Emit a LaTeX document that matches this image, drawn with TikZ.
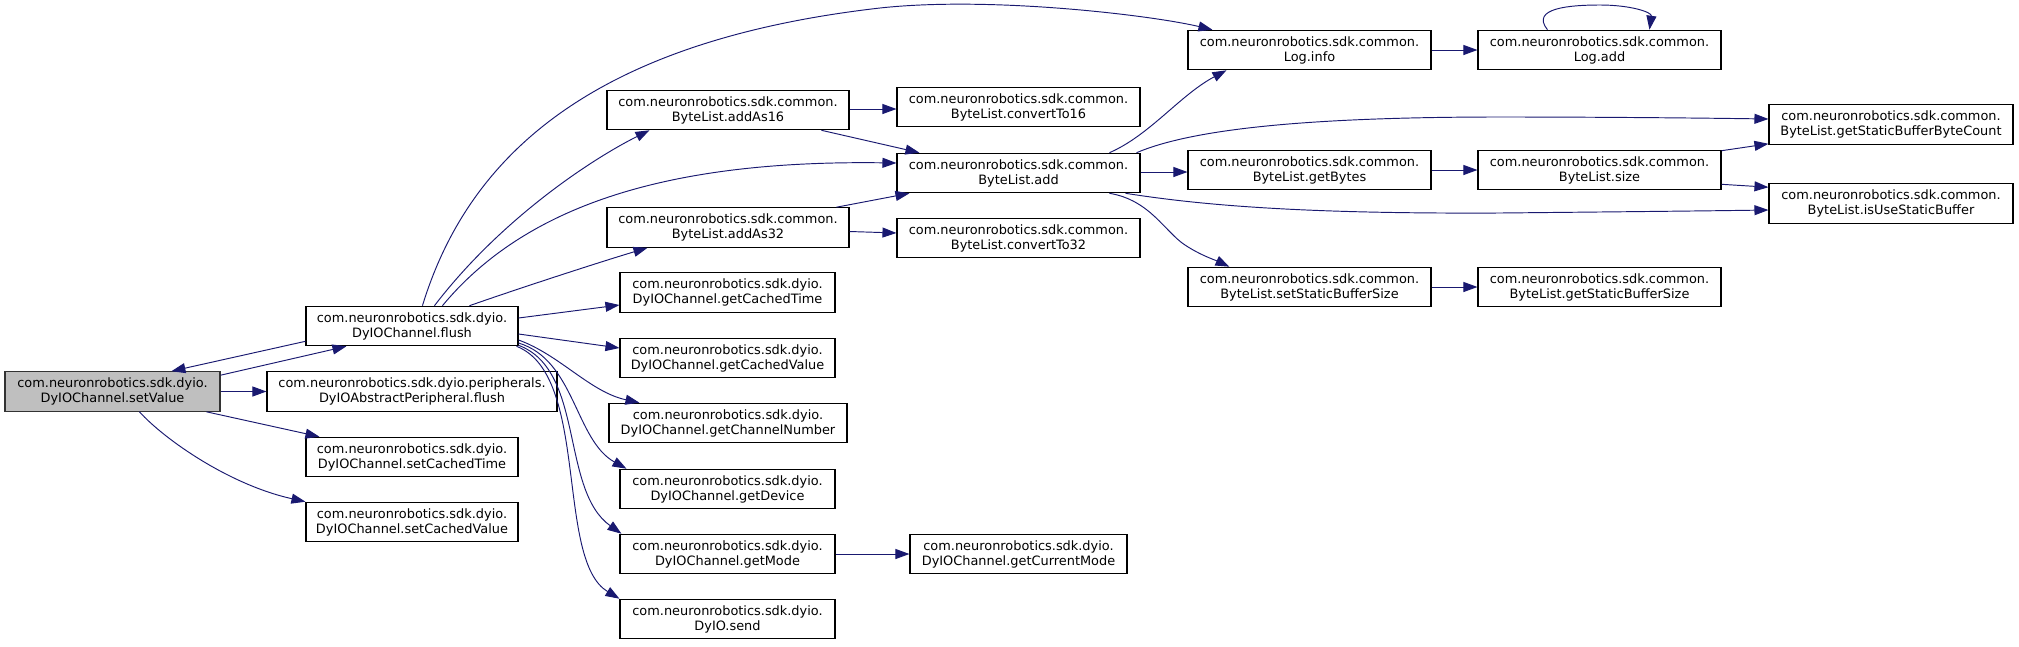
\documentclass[tikz,border=0pt]{standalone}
\usepackage{fontspec}
\setmainfont{DejaVu Sans}
\usetikzlibrary{arrows.meta,calc}
\definecolor{edgeblue}{HTML}{191970}
\definecolor{rootgray}{HTML}{BFBFBF}
\tikzset{
  fn/.style={draw=black, line width=1.1pt, fill=white, rectangle, inner sep=0pt,
    minimum height=39.5pt, align=center, font=\fontsize{12.9pt}{15pt}\selectfont},
  rootfn/.style={fn, fill=rootgray, draw=black!80},
  call/.style={draw=edgeblue, line width=0.95pt, -{Triangle[length=14pt,width=10pt]}}
}
\begin{document}
\begin{tikzpicture}[x=1pt,y=-1pt]
\useasboundingbox (0,0) rectangle (2019,646);
% column 0
\node[rootfn, minimum width=215pt] (setValue) at (112.5,391.5) {com.neuronrobotics.sdk.dyio.\\DyIOChannel.setValue};
% column 1
\node[fn, minimum width=212pt] (flush) at (412,326) {com.neuronrobotics.sdk.dyio.\\DyIOChannel.flush};
\node[fn, minimum width=290pt] (periph) at (412,391.5) {com.neuronrobotics.sdk.dyio.peripherals.\\DyIOAbstractPeripheral.flush};
\node[fn, minimum width=212pt] (setCT) at (412,457) {com.neuronrobotics.sdk.dyio.\\DyIOChannel.setCachedTime};
\node[fn, minimum width=212pt] (setCV) at (412,522) {com.neuronrobotics.sdk.dyio.\\DyIOChannel.setCachedValue};
% column 2
\node[fn, minimum width=242pt] (addAs16) at (728,110) {com.neuronrobotics.sdk.common.\\ByteList.addAs16};
\node[fn, minimum width=242pt] (addAs32) at (728,227.5) {com.neuronrobotics.sdk.common.\\ByteList.addAs32};
\node[fn, minimum width=215pt] (getCT) at (727.5,292.5) {com.neuronrobotics.sdk.dyio.\\DyIOChannel.getCachedTime};
\node[fn, minimum width=215pt] (getCV) at (727.5,358) {com.neuronrobotics.sdk.dyio.\\DyIOChannel.getCachedValue};
\node[fn, minimum width=238pt] (getCN) at (728,423) {com.neuronrobotics.sdk.dyio.\\DyIOChannel.getChannelNumber};
\node[fn, minimum width=215pt] (getDev) at (727.5,489) {com.neuronrobotics.sdk.dyio.\\DyIOChannel.getDevice};
\node[fn, minimum width=215pt] (getMode) at (727.5,554) {com.neuronrobotics.sdk.dyio.\\DyIOChannel.getMode};
\node[fn, minimum width=215pt] (send) at (727.5,619) {com.neuronrobotics.sdk.dyio.\\DyIO.send};
% column 3
\node[fn, minimum width=243pt] (conv16) at (1018.5,107) {com.neuronrobotics.sdk.common.\\ByteList.convertTo16};
\node[fn, minimum width=243pt] (badd) at (1018.5,173) {com.neuronrobotics.sdk.common.\\ByteList.add};
\node[fn, minimum width=243pt] (conv32) at (1018.5,238) {com.neuronrobotics.sdk.common.\\ByteList.convertTo32};
\node[fn, minimum width=217pt] (getCM) at (1018.5,554) {com.neuronrobotics.sdk.dyio.\\DyIOChannel.getCurrentMode};
% column 4
\node[fn, minimum width=243pt] (loginfo) at (1309.5,50) {com.neuronrobotics.sdk.common.\\Log.info};
\node[fn, minimum width=243pt] (getBytes) at (1309.5,170) {com.neuronrobotics.sdk.common.\\ByteList.getBytes};
\node[fn, minimum width=243pt] (setSBS) at (1309.5,287) {com.neuronrobotics.sdk.common.\\ByteList.setStaticBufferSize};
% column 5
\node[fn, minimum width=243pt] (logadd) at (1599.5,50) {com.neuronrobotics.sdk.common.\\Log.add};
\node[fn, minimum width=243pt] (size) at (1599.5,170) {com.neuronrobotics.sdk.common.\\ByteList.size};
\node[fn, minimum width=243pt] (getSBS) at (1599.5,287) {com.neuronrobotics.sdk.common.\\ByteList.getStaticBufferSize};
% column 6
\node[fn, minimum width=244pt] (gSBBC) at (1891,124.5) {com.neuronrobotics.sdk.common.\\ByteList.getStaticBufferByteCount};
\node[fn, minimum width=244pt] (isUse) at (1891,203.5) {com.neuronrobotics.sdk.common.\\ByteList.isUseStaticBuffer};

% edges from setValue
\draw[call] ($(setValue.north east)+(0,4)$) -- ($(flush.south west)+(41,0)$);
\draw[call] ($(flush.south west)+(0,-5)$) -- ($(setValue.north west)+(167,0)$);
\draw[call] (setValue.east) -- (periph.west);
\draw[call] ($(setValue.south west)+(202,0)$) -- ($(setCT.north west)+(14,0)$);
\draw[call] ($(setValue.south west)+(135,0)$) .. controls (165,440) and (230,485) .. ($(setCV.north west)+(0,0)$);
% edges from flush
\draw[call] ($(flush.north west)+(117,0)$) .. controls (470,150) and (600,40) .. (880,8)
  .. controls (990,-4) and (1150,15) .. ($(loginfo.north west)+(25,0)$);
\draw[call] ($(flush.north west)+(129,0)$) .. controls (500,220) and (590,160) .. ($(addAs16.south west)+(43,0)$);
\draw[call] ($(flush.north west)+(137,0)$) .. controls (530,200) and (680,160) .. ($(badd.west)+(0,-10)$);
\draw[call] ($(flush.north west)+(164,0)$) .. controls (520,288) and (600,262) .. ($(addAs32.south west)+(41,0)$);
\draw[call] ($(flush.east)+(0,-8)$) -- ($(getCT.west)+(0,12.5)$);
\draw[call] ($(flush.east)+(0,8)$) -- ($(getCV.west)+(0,-10)$);
\draw[call] ($(flush.east)+(0,14)$) .. controls (560,355) and (590,392) .. ($(getCN.north west)+(31,0)$);
\draw[call] ($(flush.east)+(0,17)$) .. controls (575,360) and (575,440) .. ($(getDev.north west)+(7,0)$);
\draw[call] ($(flush.south east)+(0,-1)$) .. controls (585,370) and (560,490) .. ($(getMode.north west)+(2,0)$);
\draw[call] ($(flush.south east)+(-2,0)$) .. controls (590,375) and (555,560) .. (send.north west);
% column 2 -> 3
\draw[call] ($(addAs16.east)+(0,-1)$) -- ($(conv16.west)+(0,2)$);
\draw[call] ($(addAs16.south west)+(215,0)$) -- ($(badd.north west)+(23,0)$);
\draw[call] ($(addAs32.north west)+(230,0)$) -- ($(badd.south west)+(13,0)$);
\draw[call] ($(addAs32.east)+(0,4)$) -- ($(conv32.west)+(0,-5)$);
\draw[call] (getMode.east) -- (getCM.west);
% from ByteList.add
\draw[call] ($(badd.north west)+(213,0)$) .. controls (1150,135) and (1180,95) .. ($(loginfo.south west)+(39,0)$);
\draw[call] ($(badd.north east)+(-4,0)$) .. controls (1190,130) and (1300,117) .. (1500,117)
  .. controls (1600,117) and (1700,118) .. ($(gSBBC.west)+(0,-5.5)$);
\draw[call] ($(badd.east)+(0,-1)$) -- ($(getBytes.west)+(0,2)$);
\draw[call] ($(badd.south east)+(-15,0)$) .. controls (1200,205) and (1300,214) .. (1500,213)
  .. controls (1600,212) and (1700,211) .. ($(isUse.west)+(0,6.5)$);
\draw[call] ($(badd.south west)+(213,0)$) .. controls (1150,200) and (1165,232) .. (1185,245)
  .. controls (1200,255) and (1215,260) .. ($(setSBS.north west)+(42,0)$);
% column 4 -> 5
\draw[call] (loginfo.east) -- (logadd.west);
\draw[call] ($(logadd.north west)+(70,0)$) .. controls (1530,8) and (1570,5) .. (1600,5)
  .. controls (1630,5) and (1652,12) .. ($(logadd.north west)+(172,0)$);
\draw[call] (getBytes.east) -- (size.west);
\draw[call] (setSBS.east) -- (getSBS.west);
% column 5 -> 6
\draw[call] ($(size.north east)+(0,1)$) -- ($(gSBBC.south west)+(0,-1)$);
\draw[call] ($(size.south east)+(0,-6)$) -- ($(isUse.north west)+(0,4)$);
\end{tikzpicture}
\end{document}
